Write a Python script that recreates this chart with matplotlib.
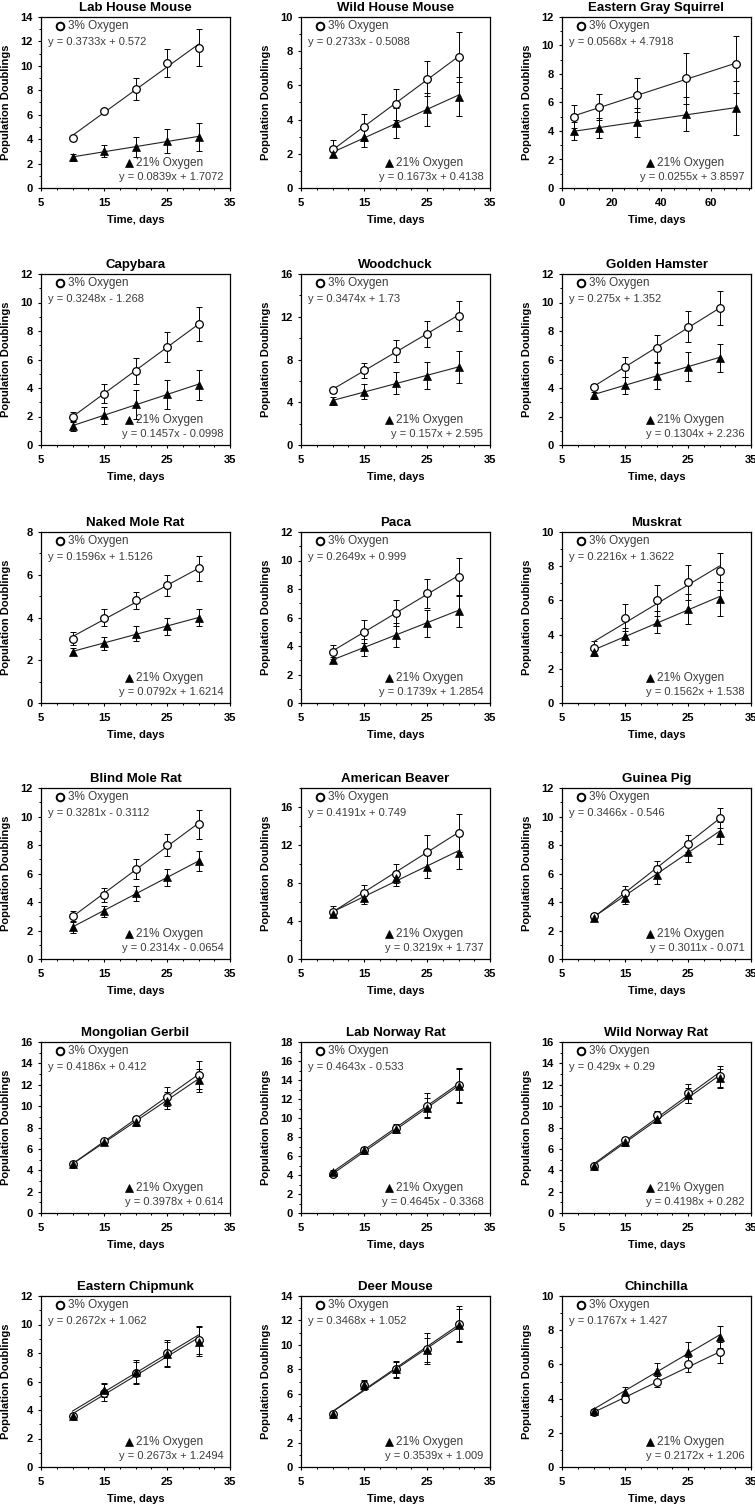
import matplotlib
matplotlib.use("Agg")
import numpy as np
import matplotlib.pyplot as plt
from matplotlib.ticker import MultipleLocator

plt.rcParams['font.family'] = ['Liberation Sans', 'DejaVu Sans']

# ---------------- data ----------------
TITLES = ["Lab House Mouse", "Wild House Mouse", "Eastern Gray Squirrel",
          "Capybara", "Woodchuck", "Golden Hamster",
          "Naked Mole Rat", "Paca", "Muskrat",
          "Blind Mole Rat", "American Beaver", "Guinea Pig",
          "Mongolian Gerbil", "Lab Norway Rat", "Wild Norway Rat",
          "Eastern Chipmunk", "Deer Mouse", "Chinchilla"]

DAYS = [10, 15, 20, 25, 30]
SQUIRREL_DAYS = [5, 15, 30, 50, 70]
X_DAYS = [DAYS, DAYS, SQUIRREL_DAYS] + [DAYS] * 15

# 3% oxygen means and error bars
Y3 = [[4.1, 6.3, 8.1, 10.25, 11.5],
      [2.3, 3.55, 4.9, 6.4, 7.65],
      [5.0, 5.7, 6.5, 7.7, 8.7],
      [2.0, 3.6, 5.2, 6.85, 8.5],
      [5.1, 7.0, 8.8, 10.4, 12.1],
      [4.1, 5.5, 6.8, 8.3, 9.6],
      [3.0, 4.0, 4.8, 5.5, 6.3],
      [3.6, 5.0, 6.3, 7.7, 8.85],
      [3.2, 5.0, 6.0, 7.05, 7.7],
      [3.0, 4.5, 6.3, 8.0, 9.45],
      [5.0, 7.0, 9.0, 11.3, 13.3],
      [3.0, 4.6, 6.3, 8.1, 9.9],
      [4.6, 6.7, 8.8, 10.9, 12.9],
      [4.1, 6.6, 9.0, 11.3, 13.5],
      [4.4, 6.8, 9.2, 11.2, 12.8],
      [3.6, 5.2, 6.6, 8.0, 8.9],
      [4.3, 6.7, 8.0, 9.7, 11.7],
      [3.2, 4.0, 5.0, 6.0, 6.7]]
E3 = [[0.1, 0.1, 0.9, 1.15, 1.5],
      [0.5, 0.8, 0.9, 1.0, 1.45],
      [0.8, 0.9, 1.2, 1.8, 2.0],
      [0.35, 0.65, 0.9, 1.05, 1.2],
      [0.2, 0.7, 1.0, 1.2, 1.4],
      [0.15, 0.7, 0.95, 1.1, 1.2],
      [0.3, 0.4, 0.4, 0.5, 0.6],
      [0.5, 0.8, 0.9, 1.0, 1.35],
      [0.45, 0.8, 0.9, 1.0, 1.1],
      [0.4, 0.5, 0.7, 0.8, 1.0],
      [0.6, 0.8, 1.0, 1.8, 2.0],
      [0.2, 0.55, 0.6, 0.6, 0.7],
      [0.15, 0.2, 0.3, 0.9, 1.3],
      [0.15, 0.3, 0.4, 1.3, 1.8],
      [0.15, 0.3, 0.3, 0.9, 1.0],
      [0.1, 0.6, 0.8, 0.9, 1.0],
      [0.15, 0.4, 0.7, 1.3, 1.5],
      [0.1, 0.2, 0.35, 0.45, 0.6]]

# 21% oxygen means and error bars
Y21 = [[2.5, 3.0, 3.37, 3.85, 4.2],
       [2.0, 3.0, 3.8, 4.6, 5.35],
       [4.0, 4.2, 4.6, 5.2, 5.6],
       [1.3, 2.1, 2.85, 3.55, 4.2],
       [4.1, 5.0, 5.8, 6.5, 7.3],
       [3.5, 4.2, 4.85, 5.5, 6.1],
       [2.4, 2.8, 3.25, 3.6, 4.0],
       [3.0, 3.9, 4.75, 5.6, 6.45],
       [3.0, 3.9, 4.75, 5.5, 6.1],
       [2.25, 3.35, 4.6, 5.75, 6.85],
       [4.7, 6.4, 8.5, 9.7, 11.2],
       [2.9, 4.3, 5.9, 7.5, 8.85],
       [4.6, 6.6, 8.5, 10.5, 12.4],
       [4.3, 6.6, 8.8, 11.1, 13.4],
       [4.4, 6.6, 8.8, 11.0, 12.6],
       [3.6, 5.4, 6.7, 7.9, 8.8],
       [4.3, 6.7, 8.0, 9.6, 11.6],
       [3.3, 4.4, 5.6, 6.7, 7.6]]
E21 = [[0.3, 0.5, 0.8, 1.0, 1.15],
       [0.2, 0.6, 0.9, 0.95, 1.15],
       [0.6, 0.7, 1.0, 1.2, 1.9],
       [0.3, 0.6, 1.0, 1.0, 1.05],
       [0.35, 0.7, 1.0, 1.3, 1.5],
       [0.25, 0.6, 0.9, 1.0, 1.0],
       [0.15, 0.3, 0.35, 0.4, 0.4],
       [0.2, 0.6, 0.85, 0.95, 1.15],
       [0.25, 0.5, 0.65, 0.9, 1.0],
       [0.45, 0.4, 0.5, 0.6, 0.7],
       [0.3, 0.6, 0.8, 1.2, 1.7],
       [0.2, 0.45, 0.65, 0.7, 0.75],
       [0.15, 0.2, 0.35, 0.8, 1.1],
       [0.2, 0.3, 0.4, 1.0, 1.8],
       [0.15, 0.3, 0.4, 0.7, 0.9],
       [0.1, 0.5, 0.8, 0.9, 1.0],
       [0.15, 0.35, 0.6, 1.0, 1.3],
       [0.1, 0.25, 0.5, 0.6, 0.65]]

# regression equations (slope, intercept)
SLOPE3 = [0.3733, 0.2733, 0.0568, 0.3248, 0.3474, 0.275, 0.1596, 0.2649, 0.2216,
          0.3281, 0.4191, 0.3466, 0.4186, 0.4643, 0.429, 0.2672, 0.3468, 0.1767]
INTERCEPT3 = [0.572, -0.5088, 4.7918, -1.268, 1.73, 1.352, 1.5126, 0.999, 1.3622,
              -0.3112, 0.749, -0.546, 0.412, -0.533, 0.29, 1.062, 1.052, 1.427]
SLOPE21 = [0.0839, 0.1673, 0.0255, 0.1457, 0.157, 0.1304, 0.0792, 0.1739, 0.1562,
           0.2314, 0.3219, 0.3011, 0.3978, 0.4645, 0.4198, 0.2673, 0.3539, 0.2172]
INTERCEPT21 = [1.7072, 0.4138, 3.8597, -0.0998, 2.595, 2.236, 1.6214, 1.2854, 1.538,
               -0.0654, 1.737, -0.071, 0.614, -0.3368, 0.282, 1.2494, 1.009, 1.206]

Y_MAX = [14, 10, 12, 12, 16, 12, 8, 12, 10, 12, 18, 12, 16, 18, 16, 12, 14, 10]
Y_STEP = [2, 2, 2, 2, 4, 2, 2, 2, 2, 2, 4, 2, 2, 2, 2, 2, 2, 2]
X_MIN = [5, 5, 0] + [5] * 15
X_MAX = [35, 35, 76] + [35] * 15
X_STEP = [10, 10, 20] + [10] * 15

LABEL3 = "3% Oxygen"
LABEL21 = "21% Oxygen"
XLABEL = "Time, days"
YLABEL = "Population Doublings"

# ---------------- layout ----------------
FW, FH = 755, 1512
COL_LEFT = [41, 301, 562]
ROW_TOP = [17, 274, 532, 788, 1042, 1296]
AW, AH = 189, 171
TEXT_COLOR = "#3c3c3c"


def eq_text(m, b):
    sign = "+" if b >= 0 else "-"
    return f"y = {m:g}x {sign} {abs(b):g}"


fig = plt.figure(figsize=(FW / 100, FH / 100), dpi=100)

for i, title in enumerate(TITLES):
    r, c = divmod(i, 3)
    left = COL_LEFT[c]
    top = ROW_TOP[r]
    ax = fig.add_axes([left / FW, 1 - (top + AH) / FH, AW / FW, AH / FH])

    x = X_DAYS[i]
    xs = [min(x), max(x)]

    ax.errorbar(x, Y3[i], yerr=E3[i], fmt='none', ecolor='black',
                elinewidth=0.7, capsize=2, capthick=0.7, zorder=2)
    ax.errorbar(x, Y21[i], yerr=E21[i], fmt='none', ecolor='black',
                elinewidth=0.7, capsize=2, capthick=0.7, zorder=2)
    ax.plot(xs, [SLOPE3[i] * v + INTERCEPT3[i] for v in xs],
            color='#222222', lw=0.8, zorder=3)
    ax.plot(xs, [SLOPE21[i] * v + INTERCEPT21[i] for v in xs],
            color='#222222', lw=0.8, zorder=3)
    ax.plot(x, Y3[i], linestyle='none', marker='o', mfc='white', mec='black',
            ms=5.5, mew=0.9, zorder=4)
    ax.plot(x, Y21[i], linestyle='none', marker='^', mfc='black', mec='black',
            ms=5.5, mew=0.5, zorder=5)

    ax.set_xlim(X_MIN[i], X_MAX[i])
    ax.set_ylim(0, Y_MAX[i])
    ax.set_xticks(np.arange(X_MIN[i], X_MAX[i] + 0.01, X_STEP[i]))
    ax.set_xticks(np.arange(X_MIN[i], X_MAX[i] + 0.01, X_STEP[i] / 4), minor=True)
    ax.yaxis.set_major_locator(MultipleLocator(Y_STEP[i]))
    ax.yaxis.set_minor_locator(MultipleLocator(Y_STEP[i] / 2))
    ax.tick_params(axis='both', which='major', direction='out', length=2.5,
                   width=0.8, labelsize=8, colors='black')
    ax.tick_params(axis='both', which='minor', direction='out', length=1.6,
                   width=0.7)
    ax.tick_params(axis='x', which='major', pad=4.5)
    ax.tick_params(axis='y', which='major', pad=3.5)
    for lab in ax.get_xticklabels() + ax.get_yticklabels():
        lab.set_fontweight('bold')
    for sp in ax.spines.values():
        sp.set_linewidth(0.9)
        sp.set_color('black')

    ax.set_title(title, fontsize=9.5, fontweight='bold', pad=4.5)
    ax.set_xlabel(XLABEL, fontsize=8, fontweight='bold')
    ax.set_ylabel(YLABEL, fontsize=8, fontweight='bold')
    ax.xaxis.label.set_va('center')
    ax.yaxis.label.set_va('center')
    ax.xaxis.set_label_coords(0.5, -32 / AH)
    ax.yaxis.set_label_coords(-35 / AW, 0.5)

    # annotations
    ax.plot([0.10], [0.947], transform=ax.transAxes, marker='o', mfc='white',
            mec='black', ms=5.5, mew=1.4, clip_on=False, zorder=6)
    ax.text(0.145, 0.947, LABEL3, transform=ax.transAxes, fontsize=8.5,
            color=TEXT_COLOR, ha='left', va='center')
    ax.text(0.035, 0.854, eq_text(SLOPE3[i], INTERCEPT3[i]), transform=ax.transAxes,
            fontsize=8, color=TEXT_COLOR, ha='left', va='center')
    ax.plot([0.465], [0.146], transform=ax.transAxes, marker='^', mfc='black',
            mec='black', ms=5.5, mew=0.5, clip_on=False, zorder=6)
    ax.text(0.505, 0.146, LABEL21, transform=ax.transAxes, fontsize=8.5,
            color=TEXT_COLOR, ha='left', va='center')
    ax.text(0.965, 0.064, eq_text(SLOPE21[i], INTERCEPT21[i]), transform=ax.transAxes,
            fontsize=8, color=TEXT_COLOR, ha='right', va='center')

fig.savefig("out.png", dpi=100)
